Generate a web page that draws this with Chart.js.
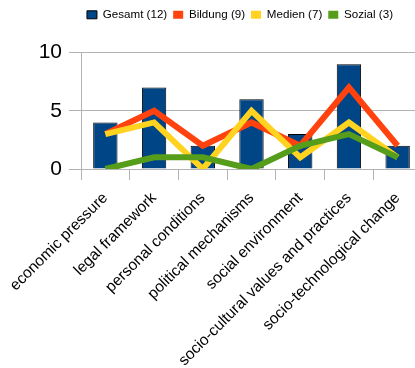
<!DOCTYPE html>
<html>
<head>
<meta charset="utf-8">
<script src="https://cdn.jsdelivr.net/npm/chart.js@4"></script>
<style>
  html, body { margin: 0; padding: 0; background: #fff; overflow: hidden; }
  #wrap { width: 422px; height: 368px; }
</style>
</head>
<body>
<div id="wrap"><canvas id="topicChart" width="422" height="368"></canvas></div>
<script>
// chart data
const categories = ['economic pressure', 'legal framework', 'personal conditions', 'political mechanisms',
    'social environment', 'socio-cultural values and practices', 'socio-technological change'];
const gesamt = [4, 7, 2, 6, 3, 9, 2];
const bildung = [3, 5, 2, 4, 2, 7, 2];
const medien = [3, 4, 0, 5, 1, 4, 1];
const sozial = [0, 1, 1, 0, 2, 3, 1];
const yTicks = [0, 5, 10];

Chart.defaults.font.family = '"Liberation Sans", Arial, sans-serif';
Chart.defaults.color = '#000';

function lineSet(label, data, color, order) {
    return {
        type: 'line',
        label: label,
        data: data,
        borderColor: color,
        backgroundColor: color,
        borderWidth: 6,
        pointRadius: 0,
        tension: 0,
        borderJoinStyle: 'miter',
        fill: false,
        order: order
    };
}

// legend: extra space below it and shift it a bit to the right
const legendTweak = {
    id: 'legendTweak',
    beforeLayout(chart) {
        const lg = chart.legend;
        if (lg && !lg._tweaked) {
            const fit = lg.fit;
            lg.fit = function () {
                fit.call(this);
                this.height += 22;
            };
            lg._tweaked = true;
        }
    },
    afterLayout(chart) {
        chart.legend.left += 11;
        chart.legend.right += 11;
    }
};

const ctx = document.getElementById('topicChart').getContext('2d');
const topicChart = new Chart(ctx, {
    type: 'bar',
    data: {
        labels: categories,
        datasets: [
            {
                label: 'Gesamt (12)',
                data: gesamt,
                backgroundColor: '#004586',
                borderColor: '#000',
                borderWidth: 1,
                barPercentage: 0.5,
                categoryPercentage: 1,
                order: 4
            },
            lineSet('Bildung (9)', bildung, '#ff420e', 3),
            lineSet('Medien (7)', medien, '#ffd320', 2),
            lineSet('Sozial (3)', sozial, '#579d1c', 1)
        ]
    },
    plugins: [legendTweak],
    options: {
        responsive: false,
        animation: false,
        layout: { padding: { left: 36, top: 3, right: 0, bottom: 0 } },
        plugins: {
            tooltip: { enabled: false },
            legend: {
                position: 'top',
                labels: {
                    boxWidth: 10,
                    boxHeight: 8,
                    padding: 6,
                    font: { size: 11.6 },
                    generateLabels: function (chart) {
                        return chart.data.datasets.map(function (ds, i) {
                            const isBar = !ds.type;
                            return {
                                text: ds.label,
                                fillStyle: ds.backgroundColor,
                                strokeStyle: isBar ? '#000' : ds.backgroundColor,
                                lineWidth: isBar ? 1 : 0,
                                datasetIndex: i
                            };
                        });
                    }
                }
            }
        },
        scales: {
            x: {
                offset: true,
                grid: { offset: true, drawOnChartArea: false, color: '#b3b3b3', tickLength: 11 },
                border: { color: '#b3b3b3' },
                ticks: { minRotation: 45, maxRotation: 45, font: { size: 15.5 }, padding: 9 },
                afterFit: function (scale) {
                    scale.height = 199;
                    scale.paddingLeft = 0;
                    scale.paddingRight = 0;
                }
            },
            y: {
                min: 0,
                max: 10,
                afterBuildTicks: function (scale) {
                    scale.ticks = yTicks.map(function (v) { return { value: v }; });
                },
                grid: { color: '#b3b3b3', tickLength: 12 },
                border: { color: '#b3b3b3' },
                ticks: { font: { size: 21 }, padding: 7 },
                afterFit: function (scale) { scale.width = 45; }
            }
        }
    }
});
</script>
</body>
</html>
